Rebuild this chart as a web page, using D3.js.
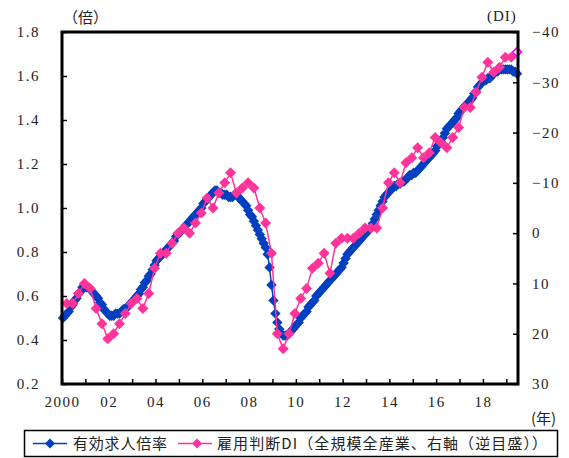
<!DOCTYPE html>
<html>
<head>
<meta charset="utf-8">
<script src="https://cdn.jsdelivr.net/npm/d3@7"></script>
<style>
  body { margin: 0; background: #fff; }
  svg text { font-family: "Liberation Serif", "Noto Sans CJK JP", serif; }
  .jp { font-family: "Noto Sans CJK JP", sans-serif; }
</style>
</head>
<body>
<svg></svg>
<script>
// 有効求人倍率 (monthly, Jan 2000 - Jun 2019)
const ratio2000 = [0.50,0.51,0.52,0.53,0.55,0.56,0.58,0.59,0.61,0.62,0.64,0.65];
const ratio2001 = [0.64,0.64,0.63,0.62,0.61,0.60,0.59,0.57,0.56,0.54,0.53,0.52];
const ratio2002 = [0.51,0.51,0.51,0.52,0.52,0.52,0.53,0.54,0.54,0.55,0.56,0.57];
const ratio2003 = [0.58,0.59,0.60,0.61,0.63,0.64,0.66,0.67,0.69,0.70,0.72,0.74];
const ratio2004 = [0.76,0.77,0.78,0.79,0.80,0.81,0.82,0.83,0.84,0.85,0.87,0.88];
const ratio2005 = [0.89,0.90,0.91,0.92,0.93,0.94,0.95,0.96,0.97,0.98,0.99,1.00];
const ratio2006 = [1.02,1.03,1.04,1.05,1.06,1.07,1.08,1.08,1.07,1.07,1.06,1.06];
const ratio2007 = [1.06,1.05,1.05,1.05,1.06,1.06,1.05,1.04,1.03,1.02,1.01,0.99];
const ratio2008 = [0.97,0.96,0.94,0.92,0.90,0.88,0.86,0.84,0.82,0.79,0.73,0.65];
const ratio2009 = [0.58,0.52,0.48,0.45,0.43,0.42,0.42,0.42,0.43,0.44,0.45,0.46];
const ratio2010 = [0.47,0.48,0.50,0.51,0.52,0.53,0.55,0.56,0.57,0.58,0.60,0.61];
const ratio2011 = [0.62,0.63,0.64,0.65,0.66,0.67,0.68,0.69,0.70,0.71,0.72,0.73];
const ratio2012 = [0.75,0.77,0.79,0.80,0.81,0.82,0.83,0.84,0.85,0.86,0.87,0.88];
const ratio2013 = [0.89,0.90,0.91,0.93,0.95,0.97,0.99,1.01,1.03,1.05,1.06,1.07];
const ratio2014 = [1.08,1.09,1.10,1.10,1.11,1.11,1.12,1.12,1.13,1.14,1.15,1.15];
const ratio2015 = [1.16,1.16,1.17,1.18,1.19,1.20,1.21,1.22,1.23,1.24,1.25,1.26];
const ratio2016 = [1.28,1.29,1.30,1.32,1.34,1.36,1.37,1.38,1.39,1.40,1.41,1.43];
const ratio2017 = [1.44,1.45,1.46,1.47,1.48,1.49,1.50,1.52,1.53,1.55,1.56,1.57];
const ratio2018 = [1.58,1.58,1.59,1.59,1.60,1.61,1.62,1.62,1.63,1.63,1.63,1.63];
const ratio2019 = [1.63,1.63,1.63,1.62,1.62,1.61];

// 雇用判断DI (quarterly: Mar, Jun, Sep, Dec), last value is the forecast
const di2000 = [14,14,12,10];
const di2001 = [11,15,18,21];
const di2002 = [20,18,16,14];
const di2003 = [13,15,12,7];
const di2004 = [4,4,2,0];
const di2005 = [-1,0,-2,-4];
const di2006 = [-7,-5,-8,-10];
const di2007 = [-12,-8,-9,-10];
const di2008 = [-9,-5,-2,4];
const di2009 = [20,23,20,16];
const di2010 = [13,11,7,6];
const di2011 = [4,8,2,1];
const di2012 = [1,1,0,-1];
const di2013 = [-1,-1,-5,-10];
const di2014 = [-12,-10,-14,-15];
const di2015 = [-17,-15,-16,-19];
const di2016 = [-18,-17,-19,-21];
const di2017 = [-25,-25,-28,-31];
const di2018 = [-34,-32,-33,-35];
const di2019 = [-35];
const diForecast = -36;

const leftTicks = [0.2,0.4,0.6,0.8,1.0,1.2,1.4,1.6,1.8];
const rightTicks = [-40,-30,-20,-10,0,10,20,30];
const yearLabels = ["2000","02","04","06","08","10","12","14","16","18"];

const ratio = [].concat(ratio2000,ratio2001,ratio2002,ratio2003,ratio2004,ratio2005,ratio2006,
  ratio2007,ratio2008,ratio2009,ratio2010,ratio2011,ratio2012,ratio2013,ratio2014,ratio2015,
  ratio2016,ratio2017,ratio2018,ratio2019);
const di = [].concat(di2000,di2001,di2002,di2003,di2004,di2005,di2006,di2007,di2008,di2009,
  di2010,di2011,di2012,di2013,di2014,di2015,di2016,di2017,di2018,di2019);

const W = 569, H = 458;
const margin = {top: 32, right: 51, bottom: 74, left: 62};
const innerW = W - margin.left - margin.right;
const innerH = H - margin.top - margin.bottom;
const nMonths = 234;

const svg = d3.select('svg').attr('width', W).attr('height', H);
const g = svg.append('g').attr('transform', `translate(${margin.left},${margin.top})`);

const x = d3.scaleLinear().domain([0, nMonths]).range([0, innerW]);
const yL = d3.scaleLinear().domain([0.2, 1.8]).range([innerH, 0]);
const yR = d3.scaleLinear().domain([-40, 30]).range([0, innerH]);

const blue = '#0040c0', pink = '#ff3399';
const diamond = r => `M0,${-r}L${r},0L0,${r}L${-r},0Z`;

// axes
const leftAxis = d3.axisLeft(yL).tickValues(leftTicks).tickSize(-5).tickPadding(22)
  .tickFormat(d3.format('.1f'));
const rightAxis = d3.axisRight(yR).tickValues(rightTicks).tickSize(-5).tickPadding(14)
  .tickFormat(d => d < 0 ? '\u2212' + Math.abs(d) : d);
const bottomAxis = d3.axisBottom(x).tickValues(d3.range(0, nMonths, 12)).tickSize(-5)
  .tickPadding(12).tickFormat((d, i) => i % 2 === 0 ? yearLabels[i / 2] : '');

const styleAxis = sel => {
  sel.select('.domain').remove();
  sel.selectAll('.tick line').attr('stroke', '#000').attr('stroke-width', 1.5);
  sel.selectAll('.tick text').attr('font-size', 15).attr('fill', '#222').attr('letter-spacing', 1.5);
};
g.append('g').call(leftAxis).call(styleAxis);
g.append('g').attr('transform', `translate(${innerW},0)`).call(rightAxis).call(styleAxis);
g.append('g').attr('transform', `translate(0,${innerH})`).call(bottomAxis).call(styleAxis);

// lines and markers
const lineL = d3.line().x((d, i) => x(i + 0.5)).y(d => yL(d));
g.append('path').datum(ratio).attr('d', lineL).attr('fill', 'none')
  .attr('stroke', blue).attr('stroke-width', 1.5);
g.selectAll('.bm').data(ratio).enter().append('path')
  .attr('d', diamond(5.2))
  .attr('transform', (d, i) => `translate(${x(i + 0.5)},${yL(d)})`)
  .attr('fill', blue);

const qx = i => x(i * 3 + 2.5);
const diAll = di.concat([diForecast]);
const lineR = d3.line().x((d, i) => qx(i)).y(d => yR(d));
g.append('path').datum(diAll).attr('d', lineR).attr('fill', 'none')
  .attr('stroke', pink).attr('stroke-width', 1.5);
g.selectAll('.pm').data(di).enter().append('path')
  .attr('d', diamond(5.5))
  .attr('transform', (d, i) => `translate(${qx(i)},${yR(d)})`)
  .attr('fill', pink);
g.append('path').attr('d', diamond(4.5))
  .attr('transform', `translate(${qx(di.length)},${yR(diForecast)})`)
  .attr('fill', '#fff').attr('stroke', '#ff00ff').attr('stroke-width', 1.5);

// frame
g.append('rect').attr('width', innerW).attr('height', innerH)
  .attr('fill', 'none').attr('stroke', '#000').attr('stroke-width', 3);

// unit labels
svg.append('text').attr('class', 'jp').attr('x', 63).attr('y', 23).attr('font-size', 15)
  .attr('fill', '#222').text('（倍）');
svg.append('text').attr('x', 487).attr('y', 21).attr('font-size', 15)
  .attr('fill', '#222').attr('letter-spacing', 1).text('(DI)');
svg.append('text').attr('class', 'jp').attr('x', 531).attr('y', 424).attr('font-size', 15)
  .attr('fill', '#222').text('(年)');

// legend
const lg = svg.append('g');
lg.append('rect').attr('x', 24.5).attr('y', 430.5).attr('width', 533).attr('height', 26)
  .attr('fill', '#fff').attr('stroke', '#000').attr('stroke-width', 1.5);
lg.append('line').attr('x1', 33).attr('x2', 67).attr('y1', 443.5).attr('y2', 443.5)
  .attr('stroke', blue).attr('stroke-width', 1.5);
lg.append('path').attr('d', diamond(5)).attr('transform', 'translate(50,443.5)').attr('fill', blue);
lg.append('text').attr('class', 'jp').attr('x', 73).attr('y', 449).attr('font-size', 15)
  .attr('fill', '#222').attr('textLength', 94).attr('lengthAdjust', 'spacing').text('有効求人倍率');
lg.append('line').attr('x1', 178).attr('x2', 212).attr('y1', 443.5).attr('y2', 443.5)
  .attr('stroke', pink).attr('stroke-width', 1.5);
lg.append('path').attr('d', diamond(5)).attr('transform', 'translate(197,443.5)').attr('fill', pink);
lg.append('text').attr('class', 'jp').attr('x', 217).attr('y', 449).attr('font-size', 15)
  .attr('fill', '#222').attr('textLength', 330).attr('lengthAdjust', 'spacing')
  .text('雇用判断DI（全規模全産業、右軸（逆目盛））');
</script>
</body>
</html>
